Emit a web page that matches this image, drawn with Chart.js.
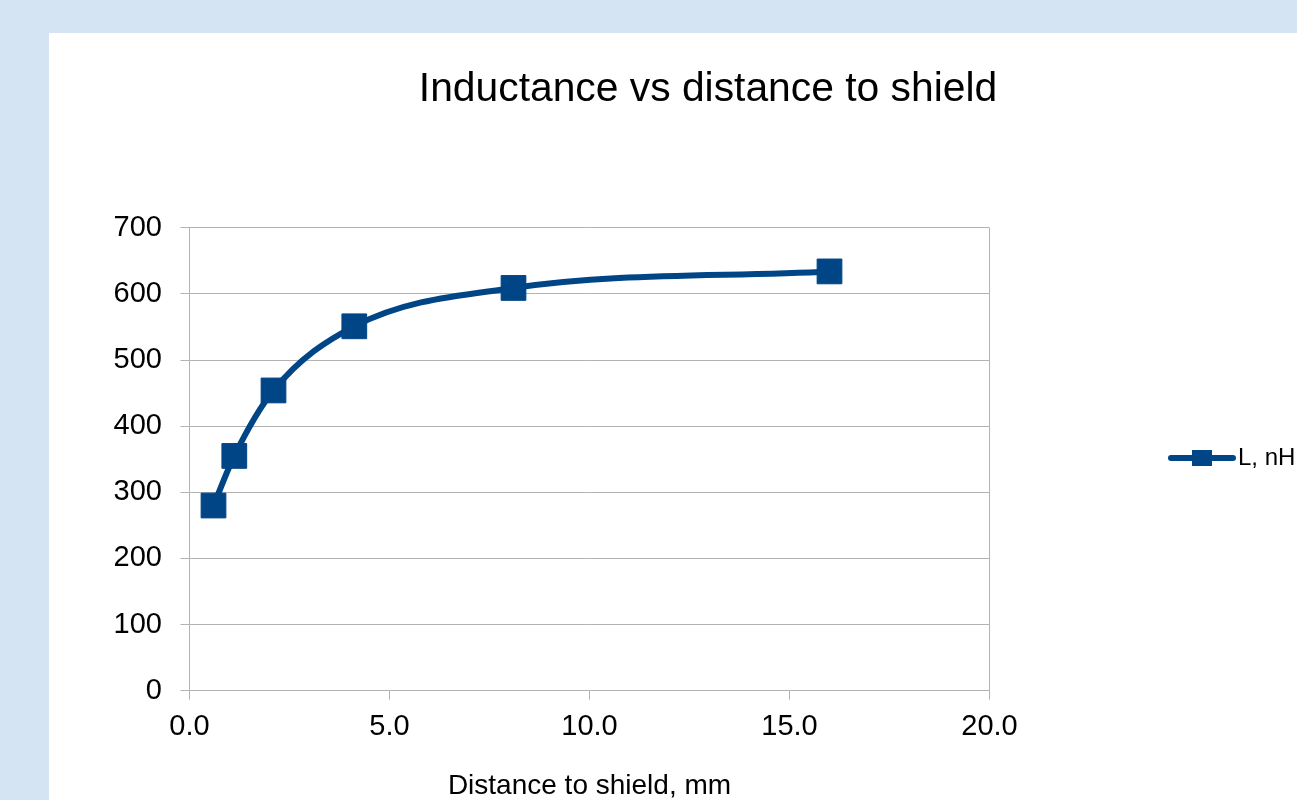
<!DOCTYPE html>
<html>
<head>
<meta charset="utf-8">
<title>Inductance vs distance to shield</title>
<script src="https://cdn.jsdelivr.net/npm/chart.js@4.4.1/dist/chart.umd.min.js"></script>
<style>
  html, body { margin: 0; padding: 0; width: 1297px; height: 800px; overflow: hidden; background: #d5e4f3; }
  #panel { position: absolute; left: 49px; top: 33px; width: 1400px; height: 900px; background: #ffffff; }
  #chart { position: absolute; left: 49px; top: 33px; }
</style>
</head>
<body>
<div id="panel"></div>
<canvas id="chart" width="1254" height="850"></canvas>
<script>
// Measured inductance of the loop against its spacing from the shield
const distances = [0.6, 1.12, 2.1, 4.12, 8.1, 16.0];   // mm
const inductance = [280, 355, 454, 551, 609, 634];      // nH
const seriesName = 'L, nH';
const chartTitle = 'Inductance vs distance to shield';
const xAxisTitle = 'Distance to shield, mm';
const xRange = [0, 20, 5];     // min, max, step
const yRange = [0, 700, 100];  // min, max, step

const FONT = "'Liberation Sans', Arial, sans-serif";
const SERIES_COLOR = '#004586';
const GRID_COLOR = '#b3b3b3';

// Legend symbol: a thick line with a square marker in its middle
function makeLegendSymbol() {
  const c = document.createElement('canvas');
  c.width = 68; c.height = 20;
  const g = c.getContext('2d');
  g.strokeStyle = SERIES_COLOR;
  g.lineWidth = 6;
  g.lineCap = 'round';
  g.beginPath();
  g.moveTo(3, 10);
  g.lineTo(65, 10);
  g.stroke();
  g.fillStyle = SERIES_COLOR;
  g.fillRect(24, 2, 20, 16);
  return c;
}
const legendSymbol = makeLegendSymbol();

new Chart(document.getElementById('chart'), {
  type: 'line',
  data: {
    datasets: [{
      label: seriesName,
      data: distances.map((d, i) => ({ x: d, y: inductance[i] })),
      borderColor: SERIES_COLOR,
      backgroundColor: SERIES_COLOR,
      borderWidth: 6,
      cubicInterpolationMode: 'monotone',
      pointStyle: 'rect',
      pointRadius: 17.5,
      pointHoverRadius: 17.5,
      pointBorderWidth: 1,
      pointBackgroundColor: SERIES_COLOR,
      pointBorderColor: SERIES_COLOR,
      clip: false
    }]
  },
  options: {
    responsive: false,
    devicePixelRatio: 1,
    animation: false,
    events: [],
    layout: { padding: { left: 64.5, right: 0.5, top: 0, bottom: 0 } },
    plugins: {
      tooltip: { enabled: false },
      title: {
        display: true,
        text: chartTitle,
        color: '#000000',
        font: { family: FONT, size: 40.8, weight: 'normal', lineHeight: 1.2 },
        padding: { top: 32, bottom: 113.8 }
      },
      legend: {
        display: true,
        position: 'right',
        align: 'center',
        maxWidth: 313,
        labels: {
          usePointStyle: true,
          pointStyleWidth: 48,
          padding: 188.5,
          color: '#000000',
          font: { family: FONT, size: 24 },
          generateLabels: (chart) => chart.data.datasets.map((ds, i) => ({
            text: ds.label,
            fillStyle: SERIES_COLOR,
            strokeStyle: SERIES_COLOR,
            lineWidth: 0,
            pointStyle: legendSymbol,
            fontColor: '#000000',
            datasetIndex: i,
            hidden: false
          }))
        }
      }
    },
    scales: {
      x: {
        type: 'linear',
        min: xRange[0],
        max: xRange[1],
        ticks: {
          stepSize: xRange[2],
          color: '#000000',
          padding: 10.2,
          maxRotation: 0,
          font: { family: FONT, size: 29 },
          callback: (v) => Number(v).toFixed(1)
        },
        grid: {
          drawOnChartArea: true,
          tickLength: 9,
          tickColor: GRID_COLOR,
          lineWidth: 1,
          color: (ctx) => (ctx.tick && ctx.tick.value === xRange[1]) ? GRID_COLOR : 'rgba(0,0,0,0)'
        },
        border: { display: true, color: GRID_COLOR, width: 1 },
        title: {
          display: true,
          text: xAxisTitle,
          color: '#000000',
          font: { family: FONT, size: 28, lineHeight: 1.2 },
          padding: { top: 14.3, bottom: 80.2 }
        }
      },
      y: {
        type: 'linear',
        min: yRange[0],
        max: yRange[1],
        afterFit: (scale) => { scale.width = 76; },
        ticks: {
          stepSize: yRange[2],
          color: '#000000',
          padding: 18.5,
          font: { family: FONT, size: 29 }
        },
        grid: {
          color: GRID_COLOR,
          tickColor: GRID_COLOR,
          tickLength: 9,
          lineWidth: 1
        },
        border: { display: true, color: GRID_COLOR, width: 1 }
      }
    }
  }
});
</script>
</body>
</html>
